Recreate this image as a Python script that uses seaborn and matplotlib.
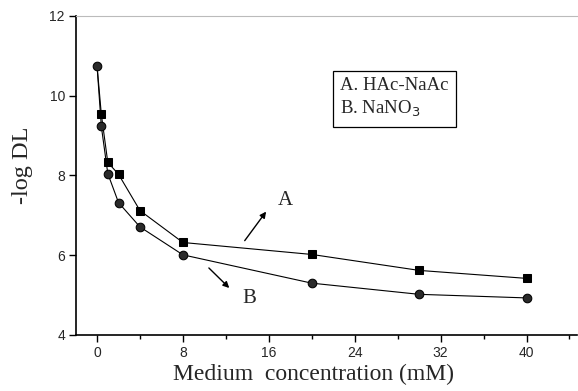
import matplotlib
matplotlib.use("Agg")
import matplotlib.pyplot as plt
import seaborn as sns
import pandas as pd
from matplotlib.ticker import MultipleLocator

sns.set_theme(style="white")
plt.rcParams['font.family'] = ['Liberation Sans', 'DejaVu Sans']

conc_a = [0.4, 1, 2, 4, 8, 20, 30, 40]
logdl_a = [9.53, 8.33, 8.03, 7.12, 6.32, 6.02, 5.62, 5.42]
conc_b = [0, 0.4, 1, 2, 4, 8, 20, 30, 40]
logdl_b = [10.75, 9.23, 8.05, 7.32, 6.71, 6.01, 5.30, 5.02, 4.93]
x_ticks = [0, 8, 16, 24, 32, 40]
y_ticks = [4, 6, 8, 10, 12]

df_a = pd.DataFrame({"conc": conc_a, "val": logdl_a})
df_b = pd.DataFrame({"conc": conc_b, "val": logdl_b})

fig = plt.figure(figsize=(5.78, 3.91), dpi=100)
ax = fig.add_axes([76/578, 56/391, 501/578, 319/391])

# line A continues from the shared first point of B
ax.plot([conc_b[0], conc_a[0]], [logdl_b[0], logdl_a[0]], color="black", lw=0.8)
sns.lineplot(data=df_a, x="conc", y="val", ax=ax, color="black", lw=0.8,
             marker="s", markersize=5.2, markerfacecolor="black",
             markeredgecolor="black", sort=False)
sns.lineplot(data=df_b, x="conc", y="val", ax=ax, color="black", lw=0.8,
             marker="o", markersize=6.2, markerfacecolor="#2a2a2a",
             markeredgecolor="black", sort=False)

ax.set_xlim(-1.96, 44.7)
ax.set_ylim(4, 12)
ax.set_xticks(x_ticks)
ax.set_yticks(y_ticks)
ax.xaxis.set_minor_locator(MultipleLocator(4))
ax.tick_params(axis="both", which="major", direction="out", length=5, width=1,
               color="black", labelsize=10, pad=3, bottom=True, left=True)
ax.tick_params(axis="x", which="minor", direction="out", length=3, width=1,
               color="black", bottom=True)

for s in ["left", "bottom"]:
    ax.spines[s].set_color("black")
    ax.spines[s].set_linewidth(1.2)
ax.spines["top"].set_color("#bbbbbb")
ax.spines["top"].set_linewidth(0.8)
ax.spines["right"].set_visible(False)

ax.set_xlabel("Medium  concentration (mM)", family=["Liberation Serif"], fontsize=17, labelpad=3)
ax.set_ylabel("-log DL", family=["Liberation Serif"], fontsize=17.5, labelpad=12)
ax.xaxis.label.set_x(0.475)
ax.yaxis.label.set_y(0.533)

# Legend-like annotation box
ax.text(0.527, 0.809, "A. HAc-NaAc\nB. NaNO$_3$", transform=ax.transAxes,
        family=["Liberation Serif"], fontsize=13.5, va="top", ha="left",
        linespacing=1.35,
        bbox=dict(boxstyle="square,pad=0.4", facecolor="white", edgecolor="black", lw=0.9))

# Arrows
ax.annotate("", xy=(15.9, 7.15), xytext=(13.6, 6.31),
            arrowprops=dict(arrowstyle="-|>", color="black", lw=1, mutation_scale=9))
ax.text(17.5, 7.37, "A", family=["Liberation Serif"], fontsize=15, ha="center", va="center")
ax.annotate("", xy=(12.5, 5.13), xytext=(10.23, 5.73),
            arrowprops=dict(arrowstyle="-|>", color="black", lw=1, mutation_scale=9))
ax.text(14.2, 4.92, "B", family=["Liberation Serif"], fontsize=15, ha="center", va="center")

fig.savefig("out.png", dpi=100)
